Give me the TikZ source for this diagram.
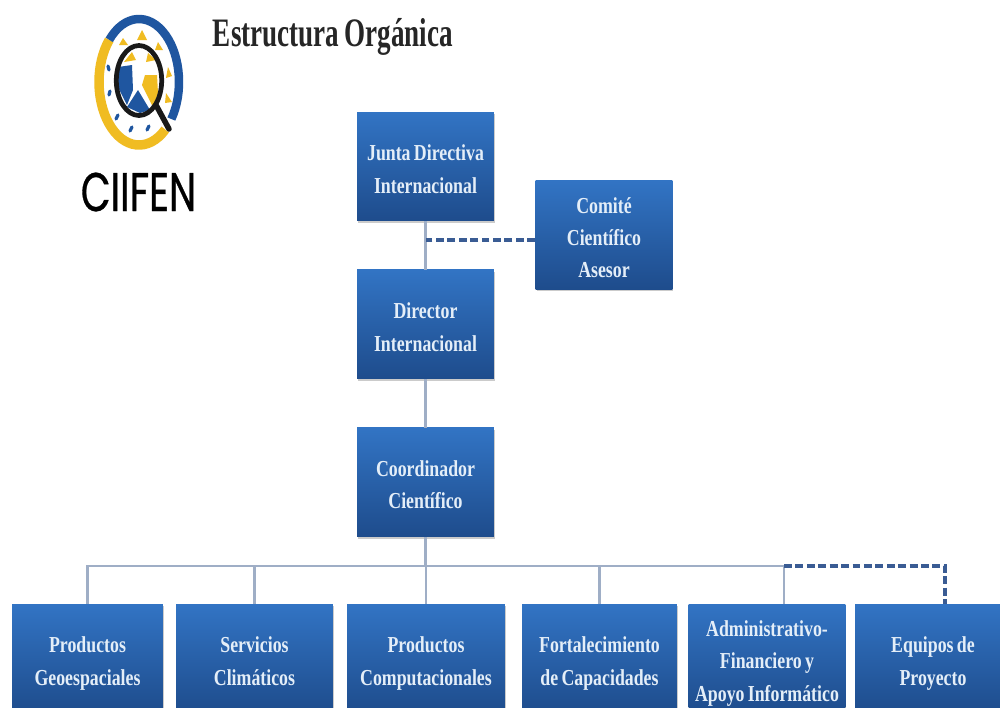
\documentclass[tikz,border=0pt]{standalone}
\usepackage{fontspec}
\setmainfont[FakeStretch=0.78, WordSpace=0.75]{Liberation Serif}
\newfontfamily\titlefont[FakeStretch=0.67, WordSpace=0.8]{Liberation Serif}
\newfontfamily\logofont[FakeStretch=0.71, FakeBold=0.6]{Poppins}
\usepackage{tikz}
\usetikzlibrary{
        shadows,
        positioning
    }
\definecolor{boxtop}{HTML}{3274C4}
\definecolor{boxbottom}{HTML}{1E4C8C}
\definecolor{boxtext}{HTML}{E4EEF8}
\definecolor{linkgray}{HTML}{9FAEC6}
\definecolor{linkdash}{HTML}{3A5C94}
\definecolor{logoblue}{HTML}{1F56A0}
\definecolor{logoyellow}{HTML}{F0BC22}

\begin{document}
\begin{tikzpicture}
[x=0.02cm, y=-0.02cm,
baseshape/.style={minimum height=2.18cm, inner sep=0pt, align=flush center, text=boxtext, font=\fontsize{13}{18.4}\selectfont\bfseries, execute at begin node={\rule{0pt}{15.4pt}}, execute at end node={\rule[-3.6pt]{0pt}{1pt}}, top color=boxtop, bottom color=boxbottom, drop shadow={black!40, shadow xshift=0.02cm, shadow yshift=-0.04cm}},
boss/.style={baseshape, minimum width=2.74cm, text width=2.7cm},
link/.style={linkgray, line width=1.4pt},
dashlink/.style={linkdash, line width=2pt, dash pattern=on 4.5pt off 2pt},
node distance=3.16cm,]
    \useasboundingbox (0,0) rectangle (1000,707);
    \fill[white] (0,0) rectangle (1000,707);

    % logo
    \draw[logoyellow, line width=0.19cm] (139,82) ++(49:40 and 63) arc[start angle=49, end angle=222, x radius=40, y radius=63];
    \draw[logoblue, line width=0.17cm] (139,82) ++(222:40 and 63) arc[start angle=222, end angle=396, x radius=40, y radius=63];
    \fill[logoyellow] (142,30) -- (137,40) -- (147,40) -- cycle;
    \fill[logoyellow] (123,38) -- (119,45) -- (128,45) -- cycle;
    \fill[logoyellow] (158,42) -- (155,50) -- (163,50) -- cycle;
    \fill[logoyellow] (168,67) -- (166,78) -- (172,76) -- cycle;
    \fill[logoyellow] (166,93) -- (165,103) -- (172,102) -- cycle;
    \draw[logoblue, line width=1.8pt, line cap=round] (109,70) -- (108,66);
    \draw[logoblue, line width=1.8pt, line cap=round] (109,95) -- (110,91);
    \draw[logoblue, line width=1.8pt, line cap=round] (116,119) -- (118,115);
    \draw[logoblue, line width=1.8pt, line cap=round] (130,131) -- (132,127);
    \draw[logoblue, line width=1.8pt, line cap=round] (147,130) -- (149,126);
    \fill[logoblue] (118,67) -- (132,65) -- (133,90) -- (127,105) -- (118,87) -- cycle;
    \fill[logoblue] (138,90) -- (150,110) -- (140,113) -- (127,107) -- cycle;
    \fill[logoyellow] (145,75) -- (157,75) -- (158,93) -- (153,107) -- (142,85) -- cycle;
    \fill[logoyellow] (124,62) -- (132,52) -- (136,60) -- cycle;
    \fill[logoyellow] (146,62) -- (148,53) -- (156,60) -- cycle;
    \draw[black!90, line width=0.095cm] (139,80.5) ellipse [x radius=22.7, y radius=35];
    \draw[black!90, line width=0.11cm, line cap=round] (156,105) -- (169,129);
    \node (brand) at (138.5,192) [font=\logofont\fontsize{31}{31}\selectfont, inner sep=0pt] {CIIFEN};

    \node (title) at (333,37) [font=\titlefont\fontsize{23}{23}\selectfont\bfseries, text=black!85, inner sep=0pt] {Estructura Orgánica};

    % upper levels
    \node (junta) at (425.5,166.5) [boss] {Junta Directiva \\ Internacional};
    \node (director) [boss, below of=junta] {Director \\ Internacional};
    \node (coord) [boss, below of=director] {Coordinador \\ Científico};
    \node (comite) at (604,235) [boss] {Comité \\ Científico \\ Asesor};

    % lower level
    \node (geo) at (87.5,658.5) [baseshape, minimum width=3.02cm, text width=3cm] {Productos \\ Geoespaciales};
    \node (clima) at (254.5,658.5) [baseshape, minimum width=3.14cm, text width=3.1cm] {Servicios \\ Climáticos};
    \node (comput) at (426,658.5) [baseshape, minimum width=3.16cm, text width=3.1cm] {Productos \\ Computacionales};
    \node (fort) at (599.5,658.5) [baseshape, minimum width=3.1cm, text width=3.1cm] {Fortalecimiento \\ de Capacidades};
    \node (admin) at (767,658.5) [baseshape, minimum width=3.14cm, text width=3.1cm] {Administrativo- \\ Financiero y \\ Apoyo Informático};
    \node (equipos) at (933,658.5) [baseshape, minimum width=3.12cm, text width=3.1cm] {Equipos de \\ Proyecto};

    \coordinate (bus) at (425.5,566);
    \coordinate (tap) at (425.5,240);
    \coordinate (admintop) at (784,604);
    \coordinate (equipostop) at (945,604);
    \draw[link] (junta) -- (director);
    \draw[link] (director) -- (coord);
    \draw[link] (coord) -- (bus);
    \draw[link] (geo.north) |- (bus);
    \draw[link] (clima.north) |- (bus);
    \draw[link] (comput.north) |- (bus);
    \draw[link] (fort.north) |- (bus);
    \draw[link] (admintop) |- (bus);
    \draw[dashlink] (tap -| comite.west) -- (tap);
    \draw[dashlink] (admintop |- bus) -| (equipostop);
\end{tikzpicture}
\end{document}
